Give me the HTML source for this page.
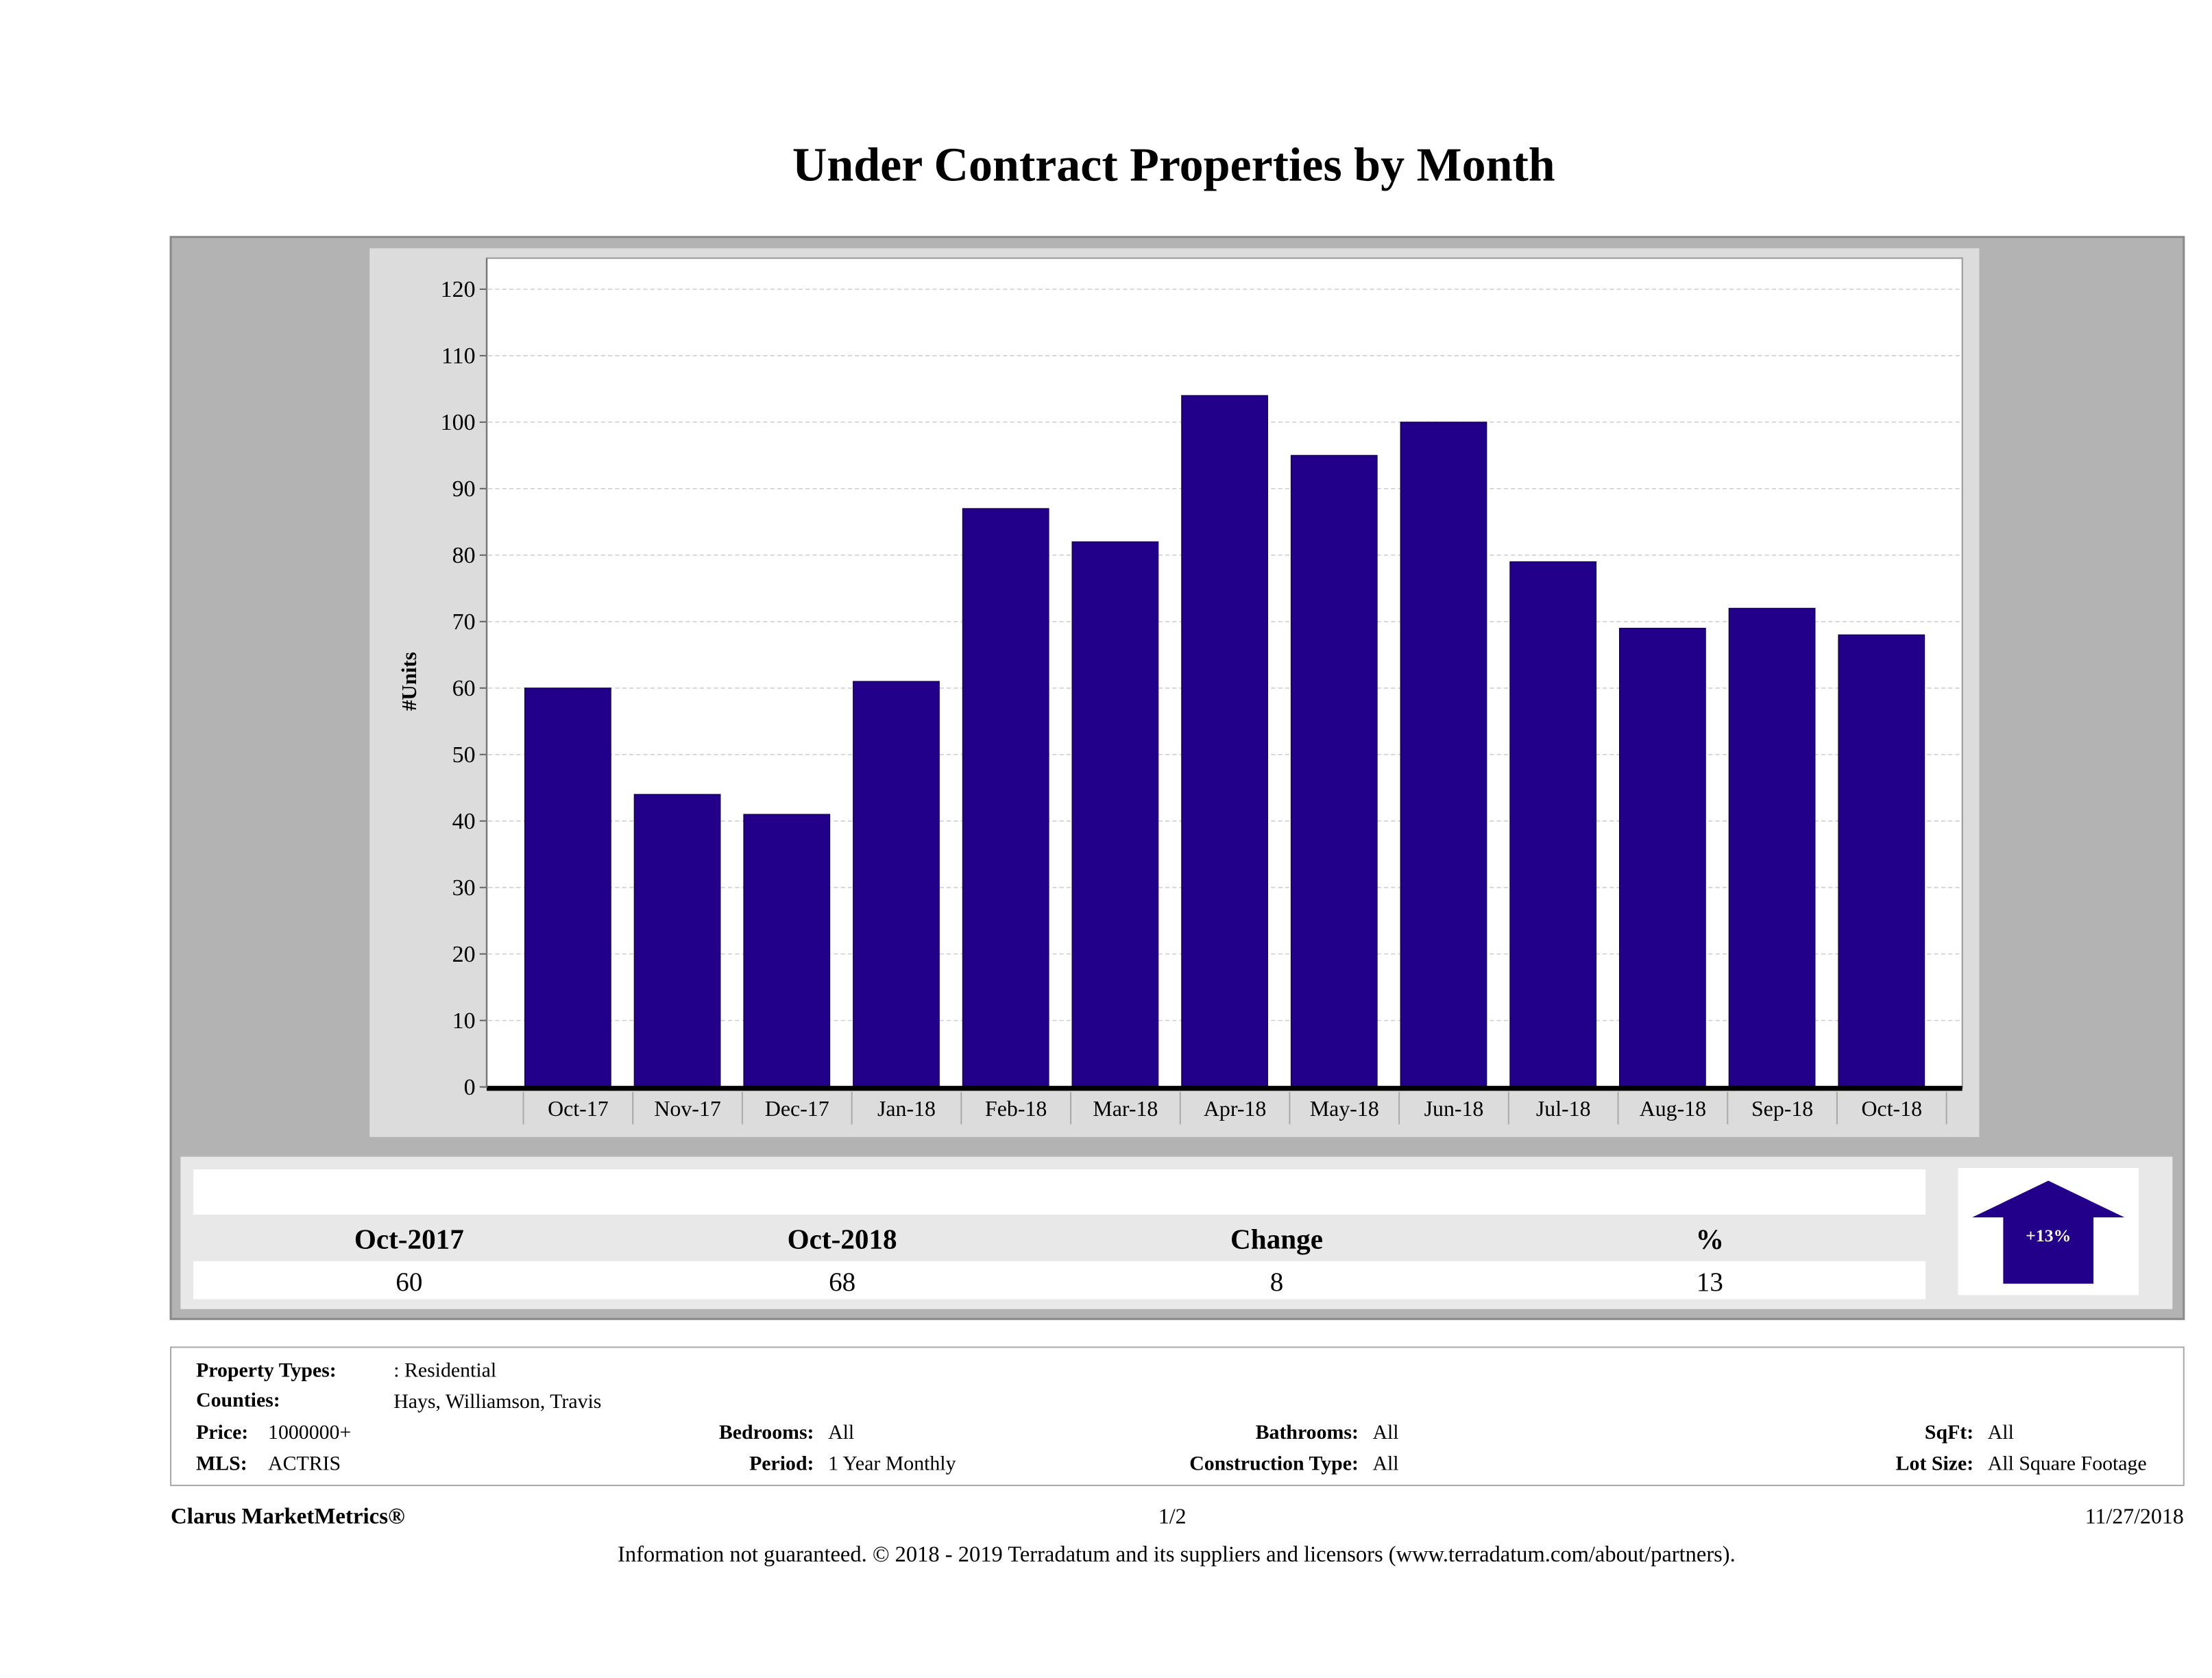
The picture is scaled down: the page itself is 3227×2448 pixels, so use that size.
<!DOCTYPE html>
<html><head><meta charset="utf-8"><style>
html,body{margin:0;padding:0;background:#fff;}
svg{display:block;font-family:"Liberation Serif",serif;}
</style></head><body>
<svg id="page" width="3227" height="2448" viewBox="0 0 1568 1189.5" xmlns="http://www.w3.org/2000/svg">
<text x="832" y="128" text-anchor="middle" font-size="34" font-weight="bold">Under Contract Properties by Month</text>
<rect x="121" y="168" width="1427" height="767" fill="#b3b3b3" stroke="#8a8a8a" stroke-width="1.5"/>
<rect x="262" y="176" width="1141" height="630" fill="#dcdcdc"/>
<rect x="345" y="183" width="1046" height="588" fill="#fff" stroke="#999" stroke-width="1"/>
<g id="grid"></g><g id="bars"></g><g id="yticks"></g><g id="xticks"></g>
<line x1="345" y1="771.5" x2="1391" y2="771.5" stroke="#000" stroke-width="3.5"/>
<line x1="345" y1="183" x2="345" y2="771" stroke="#777" stroke-width="1.2"/>
<text transform="translate(295,483) rotate(-90)" text-anchor="middle" font-size="15" font-weight="bold">#Units</text>

<rect x="128" y="820" width="1412" height="108" fill="#e8e8e8"/>
<rect x="137" y="829" width="1228" height="32" fill="#fff"/>
<rect x="137" y="894" width="1228" height="27" fill="#fff"/>
<g font-size="20" font-weight="bold" text-anchor="middle">
<text x="290" y="885">Oct-2017</text>
<text x="597" y="885">Oct-2018</text>
<text x="905" y="885">Change</text>
<text x="1212" y="885">%</text>
</g>
<g font-size="19" text-anchor="middle">
<text x="290" y="915">60</text>
<text x="597" y="915">68</text>
<text x="905" y="915">8</text>
<text x="1212" y="915">13</text>
</g>
<rect x="1388" y="828" width="128" height="90" fill="#fff"/>
<path d="M1452 837 L1506 863 L1484 863 L1484 910 L1420 910 L1420 863 L1398 863 Z" fill="#22008a"/>
<text x="1452" y="880" text-anchor="middle" font-size="12.5" font-weight="bold" fill="#fff">+13%</text>

<rect x="121" y="955" width="1427" height="98" fill="#fff" stroke="#aaa" stroke-width="1"/>
<g font-size="14.5">
<text x="139" y="976" font-weight="bold">Property Types:</text>
<text x="279" y="976">: Residential</text>
<text x="139" y="997" font-weight="bold">Counties:</text>
<text x="279" y="998">Hays, Williamson, Travis</text>
<text x="139" y="1020" font-weight="bold">Price:</text>
<text x="190" y="1020">1000000+</text>
<text x="139" y="1042" font-weight="bold">MLS:</text>
<text x="190" y="1042">ACTRIS</text>
<text x="577" y="1020" font-weight="bold" text-anchor="end">Bedrooms:</text>
<text x="587" y="1020">All</text>
<text x="577" y="1042" font-weight="bold" text-anchor="end">Period:</text>
<text x="587" y="1042">1 Year Monthly</text>
<text x="963" y="1020" font-weight="bold" text-anchor="end">Bathrooms:</text>
<text x="973" y="1020">All</text>
<text x="963" y="1042" font-weight="bold" text-anchor="end">Construction Type:</text>
<text x="973" y="1042">All</text>
<text x="1399" y="1020" font-weight="bold" text-anchor="end">SqFt:</text>
<text x="1409" y="1020">All</text>
<text x="1399" y="1042" font-weight="bold" text-anchor="end">Lot Size:</text>
<text x="1409" y="1042">All Square Footage</text>
</g>
<text x="121" y="1080" font-size="16" font-weight="bold">Clarus MarketMetrics®</text>
<text x="831" y="1080" font-size="15.5" text-anchor="middle">1/2</text>
<text x="1548" y="1080" font-size="15.5" text-anchor="end">11/27/2018</text>
<text x="834" y="1107" font-size="15.8" text-anchor="middle">Information not guaranteed. © 2018 - 2019 Terradatum and its suppliers and licensors (www.terradatum.com/about/partners).</text>
</svg>
<script>
const categories = ["Oct-17","Nov-17","Dec-17","Jan-18","Feb-18","Mar-18","Apr-18","May-18","Jun-18","Jul-18","Aug-18","Sep-18","Oct-18"];
const unitValues = [60,44,41,61,87,82,104,95,100,79,69,72,68];
const yTickValues = [0,10,20,30,40,50,60,70,80,90,100,110,120];

const NS = "http://www.w3.org/2000/svg";
const Y0 = 770.5, Y120 = 205, BAND0 = 372, BANDW = 77.6, BARW = 61;
function yScale(v){ return Y0 - (v/120)*(Y0-Y120); }
function xBand(i){ return BAND0 + i*BANDW; }
function mk(tag, attrs, parent){ const e=document.createElementNS(NS,tag); for(const k in attrs) e.setAttribute(k,attrs[k]); parent.appendChild(e); return e; }

const grid=document.getElementById('grid'), bars=document.getElementById('bars'), yt=document.getElementById('yticks'), xt=document.getElementById('xticks');
yTickValues.forEach(v=>{
  const y=yScale(v);
  if(v>0){
    const g=mk('line',{x1:346,x2:1390,y1:y,y2:y,stroke:'#d0d0d0','stroke-width':0.8,'stroke-dasharray':'3,2'},grid);
    
    
  }
  const t=mk('line',{x1:340,x2:345,y1:y,y2:y,stroke:'#666','stroke-width':1},yt);
  
  
  const l=mk('text',{x:337,y:y+5.5,'text-anchor':'end','font-size':16.5},yt);
  l.textContent=v;
  
  
});
categories.forEach((c,i)=>{
  const x=xBand(i), v=unitValues[i], y=yScale(v);
  const r=mk('rect',{x:x,y:y,width:BARW,height:Y0-y,fill:'#22008a',stroke:'#10004a','stroke-width':0.6},bars);
  
  
  const s=mk('line',{x1:x-1,x2:x-1,y1:774,y2:797,stroke:'#aaa','stroke-width':1},xt);
  
  
  const l=mk('text',{x:x+BANDW/2-1,y:791,'text-anchor':'middle','font-size':15.5},xt);
  l.textContent=c;
  
  
});
const last=mk('line',{x1:xBand(categories.length)-1,x2:xBand(categories.length)-1,y1:774,y2:797,stroke:'#aaa','stroke-width':1},xt);


</script>
</body></html>
